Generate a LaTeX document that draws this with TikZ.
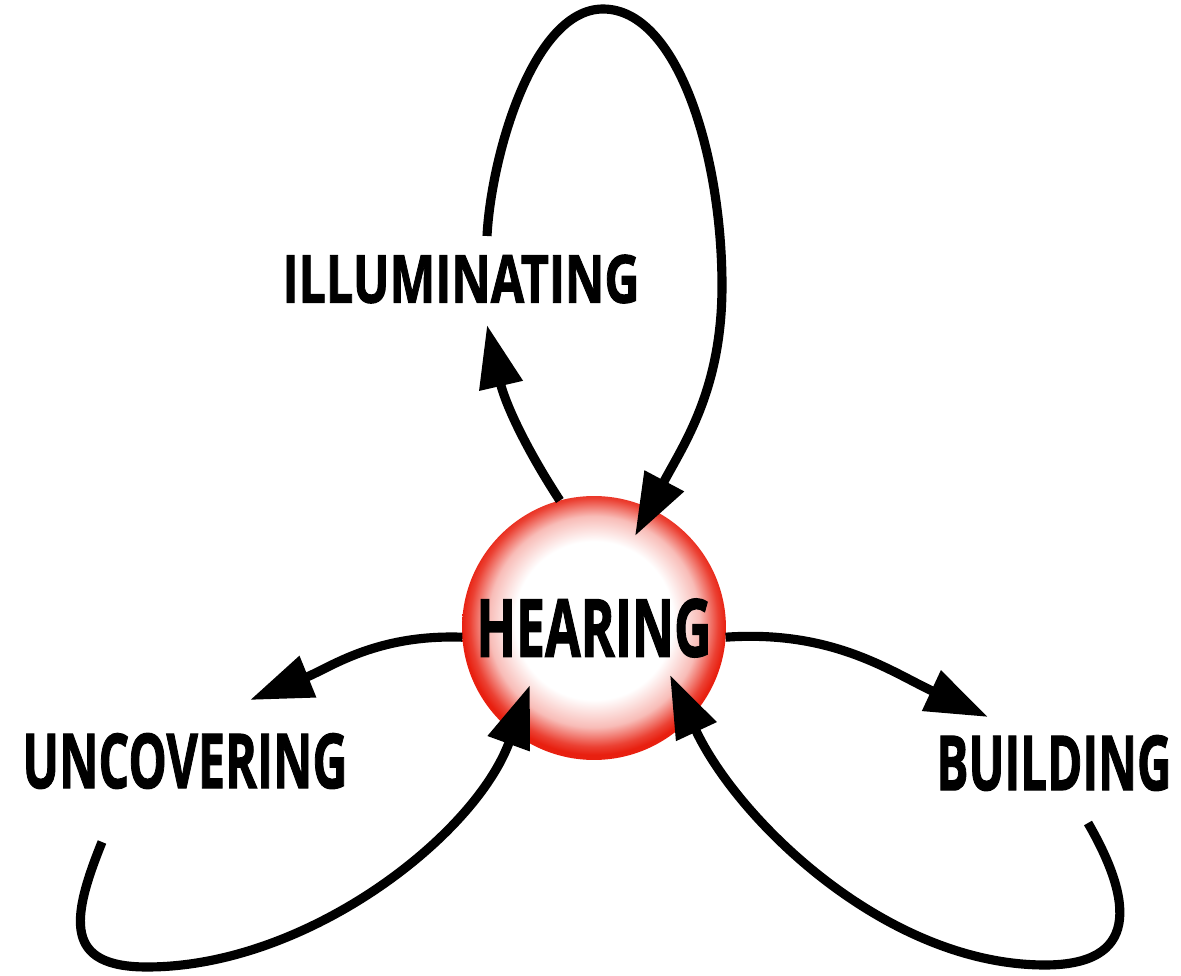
\documentclass[tikz,border=0pt]{standalone}
\usepackage{fontspec}
\setmainfont{Open Sans}[BoldFeatures={FakeBold=1.6}]
\usepackage{graphicx}
\usetikzlibrary{arrows.meta}
\definecolor{ballred}{RGB}{232,32,16}
\pgfdeclareradialshading{redball}{\pgfpoint{0bp}{2bp}}{color(0bp)=(white); color(15bp)=(white); color(20bp)=(ballred!30); color(23.5bp)=(ballred!85); color(25bp)=(ballred); color(50bp)=(ballred)}
\newcommand{\word}[3]{\resizebox{#1}{#2}{\bfseries #3}}
\begin{document}
\begin{tikzpicture}[x=0.02cm, y=0.02cm, line width=5.2pt,
  arr/.style = {-{Triangle[length=1.25cm, width=0.85cm]}},
  sphere/.style = {circle, shading=redball, minimum size=5.28cm, inner sep=0pt, outer sep=0pt}]
  \useasboundingbox (0,0) rectangle (1181,975);
  \node[sphere] (1) at (594,347) {\word{4.7cm}{1.16cm}{HEARING}};
  \node (2) at (461,696) {\word{7.14cm}{0.96cm}{ILLUMINATING}};
  \node (3) at (185,214) {\word{6.5cm}{1.1cm}{UNCOVERING}};
  \node (4) at (1054,212) {\word{4.7cm}{1.1cm}{BUILDING}};
  % loose ends of the loops
  \coordinate (t2) at (487,650);
  \coordinate (s2) at (487,739);
  \coordinate (m2) at (603,966);
  \coordinate (r2) at (722,689);
  \coordinate (t1) at (635,439);
  \coordinate (t3) at (250,275);
  \coordinate (s3) at (102,133);
  \coordinate (m3) at (147,8);
  \coordinate (u1) at (530,290);
  \coordinate (t4) at (988,258);
  \coordinate (s4) at (1088,152);
  \coordinate (m4) at (1045,10);
  \coordinate (b1) at (670,300);
  \draw [arr] (1.105) to[out=123, in=-77] (t2);
  \draw [arr] (s2) to[out=87, in=180, out distance=1.6cm, in distance=1.4cm] (m2)
    to[out=0, in=90, out distance=1.5cm, in distance=2.6cm] (r2)
    to[out=-90, in=62] (t1);
  \draw [arr] (1.184) to[out=178, in=22] (t3);
  \draw [arr] (s3) to[out=248, in=180, looseness=1.6] (m3) to[out=0, in=250, looseness=0.86] (u1);
  \draw [arr] (1.-4) to[out=4, in=155] (t4);
  \draw [arr] (s4) to[out=-60, in=0, looseness=1.6] (m4) to[out=180, in=-65, looseness=0.86] (b1);
\end{tikzpicture}
\end{document}
